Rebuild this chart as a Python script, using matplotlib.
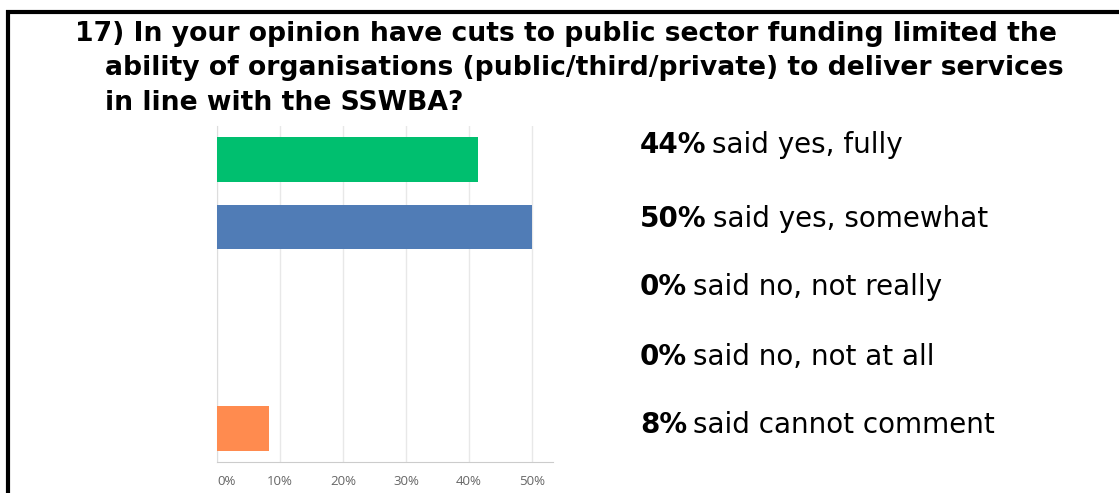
import matplotlib.pyplot as plt
from matplotlib.lines import Line2D

categories = ["yes, fully", "yes, somewhat", "no, not really", "no, not at all", "cannot comment"]
bar_values = [41.5, 50.0, 0.0, 0.0, 8.2]
bar_colors = ["#00bf6f", "#507cb6", "#ffffff", "#ffffff", "#ff8b4f"]
ticks = [0, 10, 20, 30, 40, 50]
tick_labels = ["0%", "10%", "20%", "30%", "40%", "50%"]

pct_labels = ["44%", "50%", "0%", "0%", "8%"]
answer_texts = ["said yes, fully", "said yes, somewhat", "said no, not really",
                "said no, not at all", "said cannot comment"]

title_lines = ["17) In your opinion have cuts to public sector funding limited the",
               "ability of organisations (public/third/private) to deliver services",
               "in line with the SSWBA?"]

W, H = 1119, 493
fig = plt.figure(figsize=(W / 100, H / 100), dpi=100)

# chart area
ax = fig.add_axes([217.3 / W, 1 - 462.3 / H, (553 - 217.3) / W, (462.3 - 126) / H])
y = list(range(len(categories)))
ax.barh(y, bar_values, height=0.66, color=bar_colors, zorder=3)
ax.set_ylim(len(categories) - 0.5, -0.5)
ax.set_xlim(0, 53.4)
ax.set_yticks([])
ax.set_xticks(ticks)
ax.set_xticklabels(tick_labels, fontsize=9.5, color="#666666", family="Open Sans")
ax.get_xticklabels()[0].set_horizontalalignment("left")
ax.tick_params(axis="x", length=0, pad=9)
ax.grid(axis="x", color="#e8e8e8", linewidth=1, zorder=0)
for s in ["top", "right"]:
    ax.spines[s].set_visible(False)
ax.spines["bottom"].set_color("#cccccc")
ax.spines["left"].set_color("#dddddd")

# title
fs_title = 19.2
title_x = [75, 105, 105]
title_base = [41, 75, 110]
for tx, ty, line in zip(title_x, title_base, title_lines):
    fig.text(tx / W, 1 - ty / H, line, fontsize=fs_title, weight="bold",
             family="DejaVu Sans", va="baseline")

# answer labels on the right
text_y = [142, 216, 284, 354, 422]
fig.canvas.draw()
r = fig.canvas.get_renderer()
for yy, p, t in zip(text_y, pct_labels, answer_texts):
    b = fig.text(640 / W, 1 - yy / H, p, fontsize=20, weight="bold",
                 family="DejaVu Sans", va="center_baseline")
    ext = b.get_window_extent(renderer=r)
    fig.text((ext.x1 + 6) / W, 1 - yy / H, t, fontsize=20,
             family="DejaVu Sans", va="center_baseline")

# frame lines
fig.add_artist(Line2D([8 / W, 8 / W], [0, 1 - 10 / H], color="black", linewidth=3,
                      transform=fig.transFigure, solid_capstyle="butt"))
fig.add_artist(Line2D([6 / W, 1], [1 - 12 / H, 1 - 12 / H], color="black", linewidth=3,
                      transform=fig.transFigure, solid_capstyle="butt"))

fig.savefig("out.png", dpi=100)
